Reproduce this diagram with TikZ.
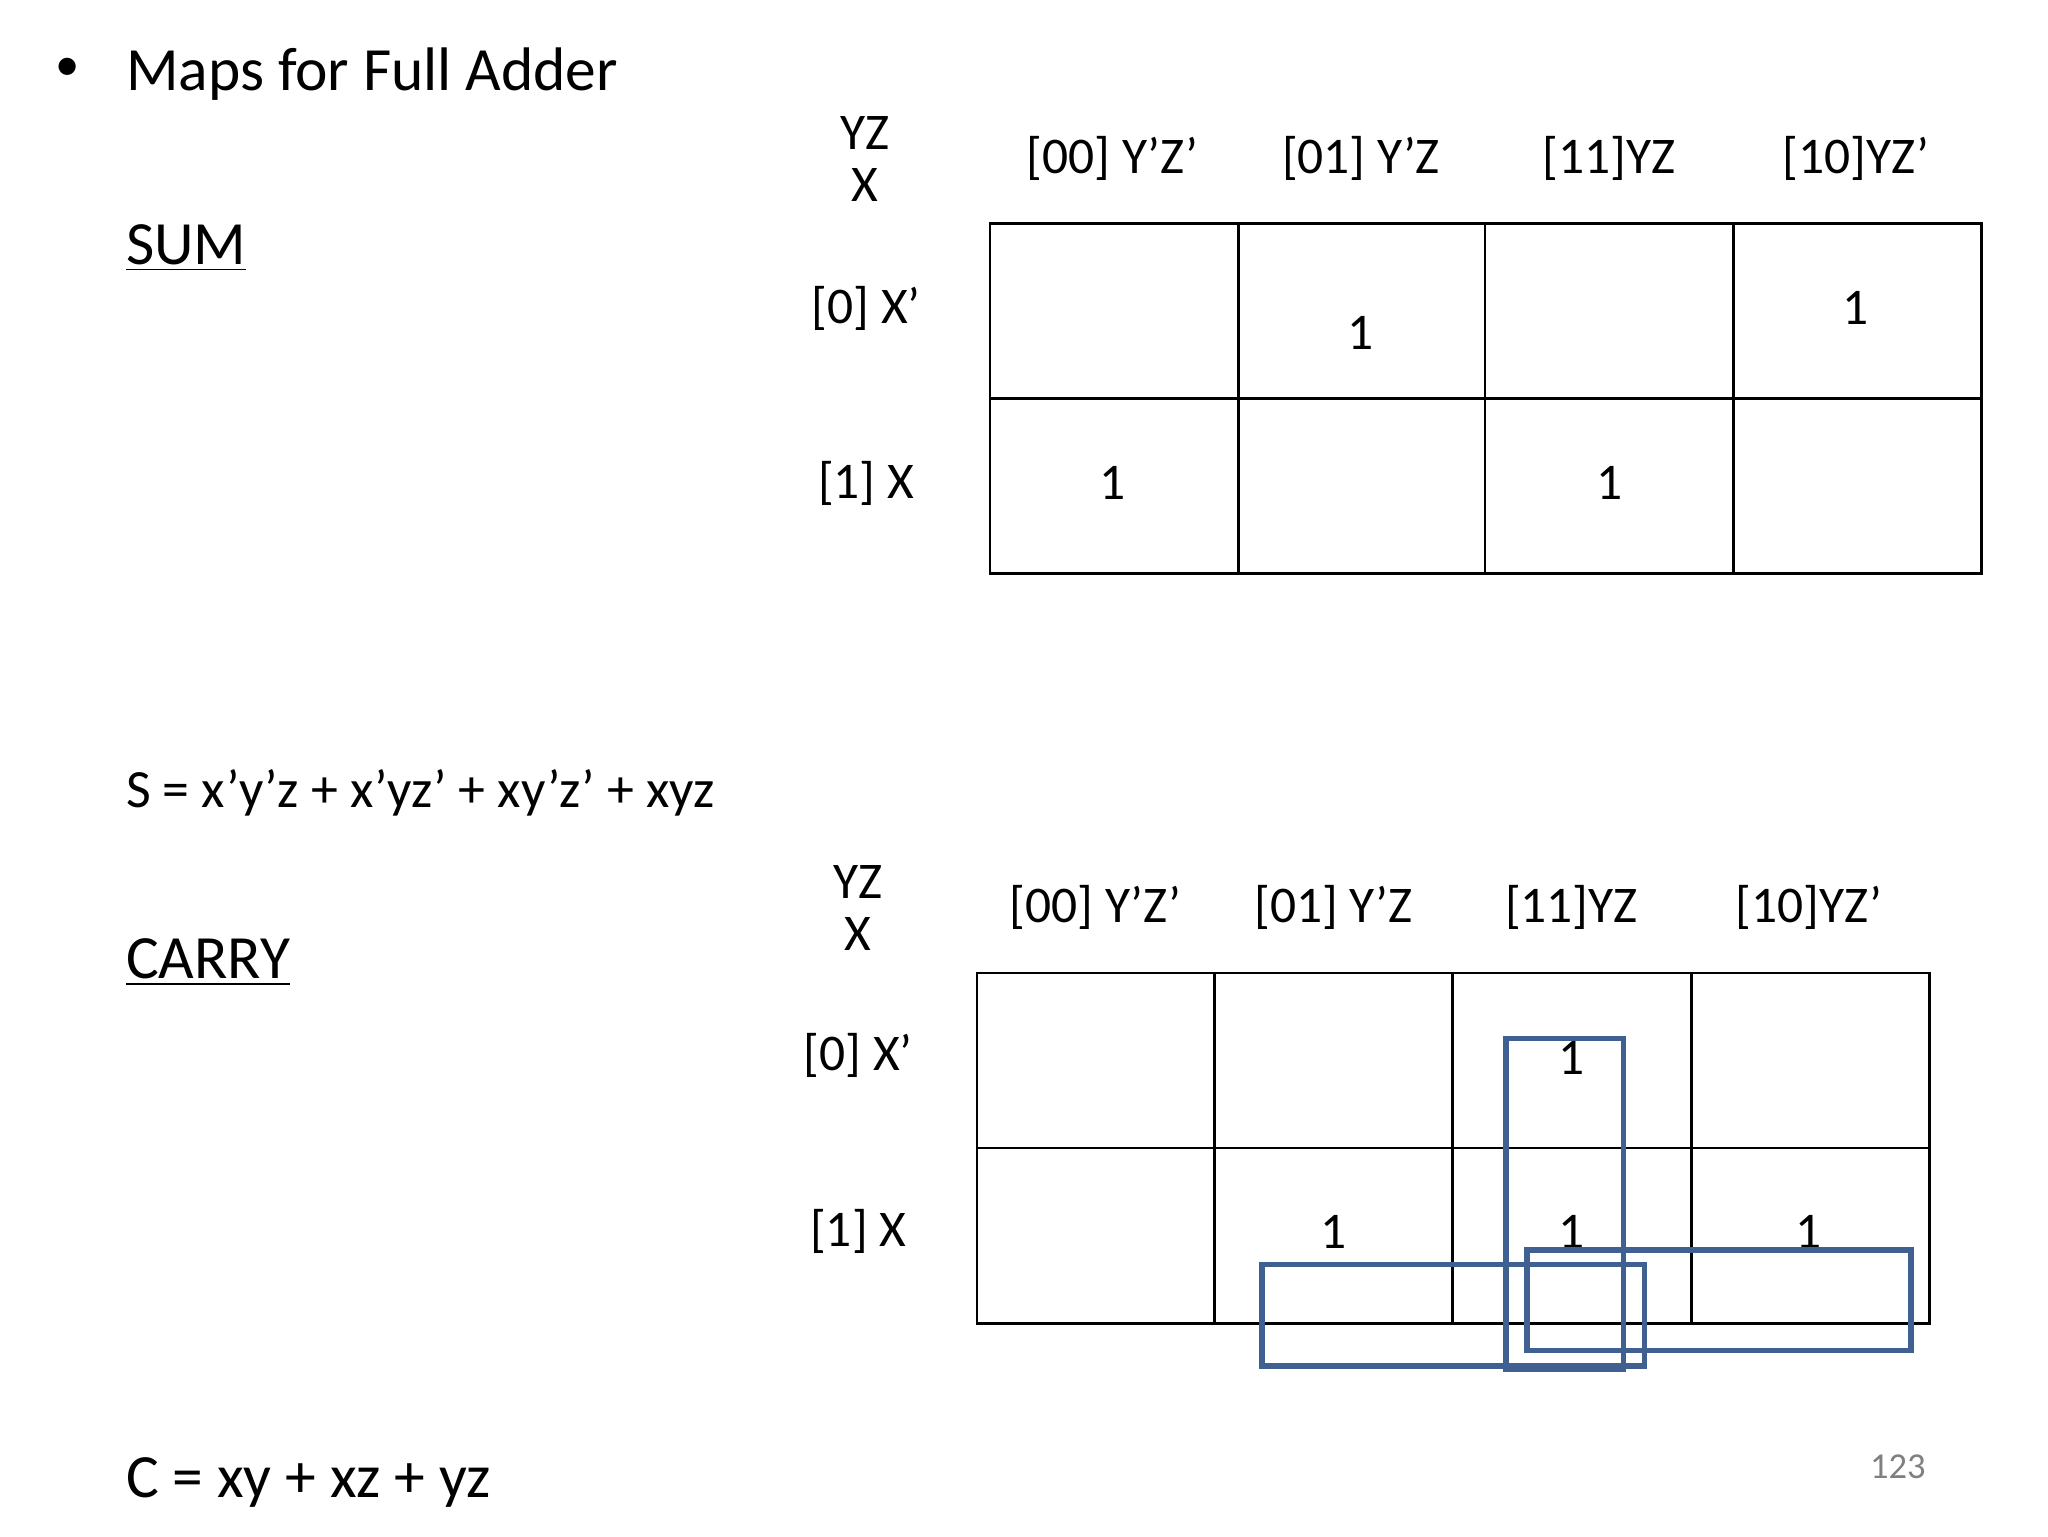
\documentclass[tikz,border=0pt]{standalone}
\usepackage{fontspec}
\setmainfont{Carlito}
\begin{document}
\begin{tikzpicture}[x=0.01322cm,y=-0.01322cm,
  lab/.style={font=\fontsize{14.8}{17}\selectfont,inner sep=0pt},
  big/.style={font=\fontsize{17.7}{21}\selectfont,inner sep=0pt,anchor=west},
  grid/.style={draw=black,line width=0.8pt}]
\definecolor{grpc}{HTML}{3F6090}
\useasboundingbox (0,0) rectangle (1568,1176);
\node[font=\fontsize{14}{16}\selectfont,inner sep=0pt] (bul) at (52,53) {\textbullet};
\node[big] (title) at (96,57) {Maps for Full Adder};
\node[big] (sum) at (96,190) {\underline{SUM}};
\node[big] (carry) at (96,737) {\underline{CARRY}};
\node[font=\fontsize{15.5}{18}\selectfont,inner sep=0pt,anchor=west] (seq) at (96,607) {S = x’y’z + x’yz’ + xy’z’ + xyz};
\node[big] (ceq) at (96,1135) {C = xy + xz + yz};
\node[font=\fontsize{10.5}{13}\selectfont,text=gray] (pg) at (1453,1123) {123};
% top map
\draw[grid] (758,171) rectangle (1517,439);
\foreach \x in {948,1137,1327} \draw[grid] (\x,171) -- (\x,439);
\draw[grid] (758,305) -- (1517,305);
\node[lab] (t1) at (662,102) {YZ};
\node[lab] (t2) at (662,142) {X};
\node[lab] (h1) at (852,121) {[00] Y’Z’};
\node[lab] (h2) at (1042,121) {[01] Y’Z};
\node[lab] (h3) at (1232,121) {[11]YZ};
\node[lab] (h4) at (1421,121) {[10]YZ’};
\node[lab] (r1) at (663,236) {[0] X’};
\node[lab] (r2) at (663,370) {[1] X};
\node[lab] (a1) at (1042,255) {1};
\node[lab] (a2) at (1421,236) {1};
\node[lab] (a3) at (852,370) {1};
\node[lab] (a4) at (1232,370) {1};
% bottom map
\draw[grid] (748,745) rectangle (1477,1013);
\foreach \x in {930,1112,1295} \draw[grid] (\x,745) -- (\x,1013);
\draw[grid] (748,879) -- (1477,879);
\node[lab] (b1) at (657,675) {YZ};
\node[lab] (b2) at (657,715) {X};
\node[lab] (g1) at (839,695) {[00] Y’Z’};
\node[lab] (g2) at (1021,695) {[01] Y’Z};
\node[lab] (g3) at (1203,695) {[11]YZ};
\node[lab] (g4) at (1385,695) {[10]YZ’};
\node[lab] (s1) at (657,808) {[0] X’};
\node[lab] (s2) at (657,943) {[1] X};
\node[lab] (c1) at (1203,810) {1};
\node[lab] (c2) at (1021,943) {1};
\node[lab] (c3) at (1203,943) {1};
\node[lab] (c4) at (1385,943) {1};
\draw[draw=grpc,line width=1.6pt] (1153,795) rectangle (1243,1048);
\draw[draw=grpc,line width=1.6pt] (966,968) rectangle (1259,1046);
\draw[draw=grpc,line width=1.6pt] (1169,957) rectangle (1463,1034);
\end{tikzpicture}
\end{document}
